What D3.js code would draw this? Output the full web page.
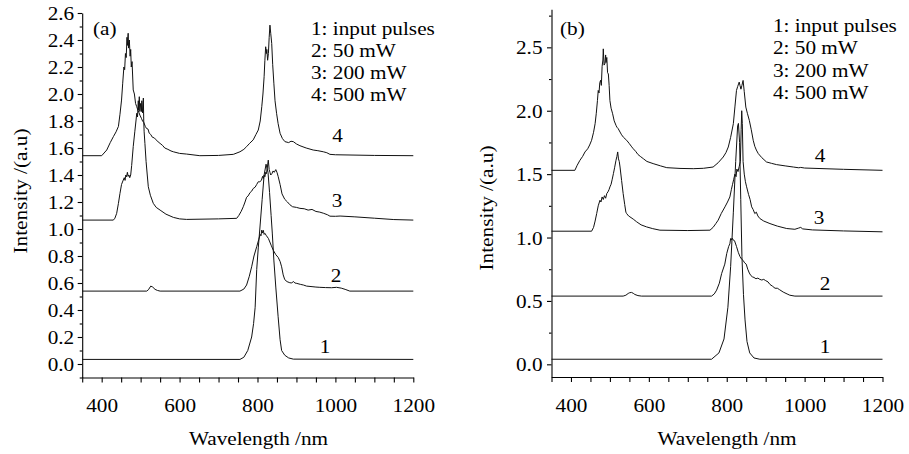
<!DOCTYPE html>
<html><head><meta charset="utf-8">
<script src="https://cdn.jsdelivr.net/npm/d3@7"></script>
<style>body{margin:0;background:#fff}svg{display:block}text{font-family:"Liberation Serif","Times New Roman",serif;fill:#000}</style>
</head><body><div id="chart"></div>
<script>
// ---------- data ----------
const xMajorTicks = [400, 600, 800, 1000, 1200];
const xMinorTicks = [350,400,450,500,550,600,650,700,750,800,850,900,950,1000,1050,1100,1150,1200];
const yTicksA = [0,0.2,0.4,0.6,0.8,1.0,1.2,1.4,1.6,1.8,2.0,2.2,2.4,2.6];
const yMinorA = [-0.1,0.1,0.3,0.5,0.7,0.9,1.1,1.3,1.5,1.7,1.9,2.1,2.3,2.5];
const yTicksB = [0,0.5,1.0,1.5,2.0,2.5];
const yMinorB = [0.25,0.75,1.25,1.75,2.25,2.75];
const legendLabels = ["1: input pulses", "2: 50 mW", "3: 200 mW", "4: 500 mW"];
const curveNames = ["1", "2", "3", "4"];
const panelNames = ["(a)", "(b)"];
const xTitle = "Wavelength /nm";
const yTitle = "Intensity /(a.u)";

// panel (a) spectra: [wavelength nm, intensity]
const specA1 = [[350,0.034],[755,0.034],[765,0.05],[775,0.1],[785,0.2],[790,0.3],[794,0.42],[798,0.7],[802,0.86],[806,1.0],[812,1.22],[817,1.4],[822,1.48],[827,1.42],[831,1.27],[835,1.1],[838,0.97],[842,0.77],[847,0.57],[853,0.35],[858,0.18],[862,0.1],[870,0.065],[880,0.045],[892,0.036],[1200,0.034]];
const specA2 = [[350,0.54],[515.5,0.54],[520,0.55],[526,0.577],[531,0.57],[537,0.553],[543,0.545],[550,0.54],[755,0.54],[765,0.555],[772,0.585],[779,0.65],[785,0.72],[791,0.8],[798,0.869],[803,0.92],[807,0.96],[809,0.95],[811,0.992],[813,0.97],[815,0.99],[817,0.96],[819,0.968],[823,0.95],[828,0.93],[835,0.88],[841,0.84],[847,0.81],[853,0.79],[858,0.76],[862,0.72],[866,0.66],[870,0.625],[876,0.61],[883,0.602],[888,0.6],[892,0.612],[896,0.6],[901,0.597],[910,0.59],[918,0.585],[926,0.577],[940,0.573],[950,0.57],[960,0.568],[975,0.566],[990,0.565],[1003,0.568],[1015,0.562],[1025,0.553],[1037,0.54],[1200,0.54]];
const specA3 = [[350,1.066],[430,1.066],[434,1.08],[438.5,1.116],[443,1.19],[447,1.264],[451,1.33],[455.5,1.363],[458,1.38],[460,1.36],[462,1.4],[464,1.387],[466,1.42],[468,1.39],[470,1.4],[472,1.38],[474.5,1.4],[477,1.47],[481,1.61],[485,1.72],[488,1.8],[490,1.857],[492,1.83],[494,1.95],[495,1.88],[496.6,1.98],[498,1.87],[500,1.93],[502,1.87],[503,1.95],[505,1.86],[507,1.97],[508,1.8],[509,1.72],[511,1.634],[514,1.5],[517,1.4],[519.7,1.313],[525,1.25],[532.5,1.19],[540,1.16],[550,1.14],[565,1.11],[584,1.086],[600,1.075],[618,1.071],[700,1.075],[746.6,1.079],[752,1.1],[758,1.13],[763.5,1.165],[768,1.2],[772,1.235],[776,1.245],[781,1.27],[785,1.28],[789,1.3],[794,1.31],[798,1.33],[802,1.35],[806,1.35],[810,1.36],[813,1.39],[815,1.375],[817,1.4],[819,1.387],[821,1.42],[823,1.41],[825,1.45],[827.7,1.51],[830,1.44],[832,1.42],[834,1.4],[837,1.41],[840,1.43],[843,1.42],[847,1.44],[850,1.42],[853,1.39],[858,1.33],[863,1.26],[870,1.22],[877,1.2],[883,1.18],[890,1.165],[900,1.16],[909,1.153],[920,1.15],[930,1.14],[940,1.145],[950,1.13],[960,1.125],[970,1.116],[980,1.105],[986,1.095],[1000,1.094],[1012,1.096],[1050,1.09],[1100,1.08],[1150,1.07],[1200,1.066]];
const specA4 = [[350,1.543],[400,1.543],[413,1.585],[422,1.64],[430,1.684],[437,1.72],[443,1.76],[447,1.85],[451,1.955],[454,2.08],[457,2.2],[459,2.18],[461,2.3],[463,2.27],[465,2.42],[466,2.36],[468,2.45],[469,2.34],[471,2.4],[473,2.28],[474.5,2.33],[476,2.2],[478,2.24],[481,2.03],[484,2.0],[487,1.93],[490,1.906],[493,1.88],[496,1.86],[498,1.844],[502,1.82],[505,1.8],[508,1.79],[512,1.76],[515,1.745],[519,1.74],[522,1.71],[526,1.7],[530,1.68],[535,1.675],[540,1.66],[545,1.645],[550,1.634],[556,1.62],[562,1.6],[570,1.59],[578,1.578],[584,1.572],[600,1.56],[618,1.555],[652,1.543],[700,1.545],[738,1.553],[755,1.572],[765,1.59],[772,1.61],[780,1.635],[789,1.66],[796,1.7],[802,1.733],[807,1.8],[811,1.906],[814,2.0],[817,2.128],[819,2.25],[821,2.35],[823,2.3],[824,2.33],[826,2.25],[828,2.3],[830,2.42],[832,2.51],[834,2.45],[836.5,2.375],[839,2.22],[842,2.08],[845,1.95],[849,1.857],[853,1.78],[858,1.709],[864,1.67],[870.5,1.647],[880,1.64],[886,1.65],[892,1.647],[900,1.63],[909,1.617],[925,1.6],[943,1.585],[955,1.58],[969,1.572],[978,1.565],[986,1.553],[1000,1.55],[1100,1.545],[1200,1.543]];

// panel (b) spectra
const specB1 = [[350,0.04],[761,0.04],[780,0.09],[793,0.2],[803,0.45],[810,0.77],[817,1.2],[823,1.6],[828,1.88],[830,1.9],[833,1.75],[836,1.3],[839,0.85],[843,0.55],[847,0.35],[852,0.18],[859,0.09],[870,0.05],[885,0.04],[1200,0.04]];
const specB2 = [[350,0.538],[534,0.538],[541,0.545],[547,0.559],[551,0.565],[555.5,0.567],[560,0.56],[564,0.551],[572,0.542],[581,0.538],[761,0.538],[768,0.555],[774,0.585],[781,0.64],[787,0.717],[795,0.79],[800,0.874],[805,0.93],[808,0.95],[810,0.992],[812,0.98],[814,0.995],[817,0.979],[820,0.975],[825,0.93],[830,0.88],[834,0.85],[838,0.83],[842,0.82],[846,0.8],[850,0.79],[854,0.75],[858,0.72],[862,0.7],[866,0.69],[870,0.685],[875,0.675],[880,0.68],[885,0.67],[890,0.665],[895,0.67],[900,0.66],[906,0.65],[911,0.63],[918,0.615],[924,0.6],[930,0.6],[935,0.59],[945,0.57],[955,0.555],[962,0.545],[975,0.538],[1200,0.538]];
const specB3 = [[350,1.05],[453,1.05],[458,1.08],[462,1.13],[466,1.189],[470,1.25],[474.5,1.294],[477,1.28],[480,1.32],[483,1.3],[486,1.33],[489,1.31],[492,1.347],[495,1.36],[498,1.38],[500,1.399],[503,1.42],[506,1.46],[509,1.504],[512,1.55],[515.6,1.609],[518,1.64],[520,1.675],[522,1.62],[524,1.6],[526,1.556],[530,1.45],[534,1.347],[538,1.26],[541,1.2],[543,1.189],[548,1.17],[551.5,1.163],[560,1.145],[568.6,1.124],[580,1.1],[594,1.084],[610,1.07],[628.5,1.058],[700,1.055],[757,1.058],[765,1.08],[772,1.11],[778,1.137],[786,1.19],[795.5,1.242],[802,1.28],[808,1.32],[812,1.38],[815,1.42],[818,1.46],[821,1.5],[824,1.48],[826,1.54],[829,1.52],[832,1.56],[835,1.6],[837,1.85],[838.5,2.0],[840,1.9],[842,1.6],[845,1.5],[848,1.44],[851,1.4],[856,1.34],[860,1.3],[864,1.242],[868,1.22],[872,1.189],[876,1.2],[880,1.17],[885,1.15],[895,1.13],[911,1.11],[930,1.09],[954,1.071],[975,1.065],[985,1.075],[990,1.08],[995,1.068],[1020,1.06],[1100,1.052],[1200,1.045]];
const specB4 = [[350,1.53],[410,1.53],[416,1.57],[423,1.609],[430,1.64],[436,1.675],[443,1.7],[448,1.73],[453,1.767],[458,1.83],[462,1.898],[465,1.98],[468,2.08],[470,2.16],[472,2.14],[474,2.22],[476,2.24],[478,2.2],[480,2.35],[482,2.4],[483,2.488],[485,2.36],[487,2.37],[489,2.44],[490,2.38],[492,2.42],[494,2.3],[496,2.29],[498,2.2],[500,2.08],[503,2.02],[507,1.976],[511,1.92],[515.6,1.885],[518,1.87],[521,1.86],[526,1.832],[530,1.81],[535,1.79],[543,1.767],[550,1.74],[556,1.715],[560,1.7],[566,1.68],[572,1.655],[578,1.64],[585.7,1.622],[595,1.6],[611,1.583],[630,1.565],[646,1.551],[680,1.545],[714,1.543],[740,1.546],[765,1.556],[778,1.59],[791,1.635],[798,1.67],[804,1.714],[810,1.79],[817,1.898],[821,2.03],[825,2.16],[828,2.19],[832,2.226],[834,2.2],[836.5,2.17],[839,2.2],[842,2.239],[845,2.15],[849,2.029],[853,1.98],[858,1.924],[863,1.85],[868,1.767],[872,1.72],[876,1.69],[881,1.662],[890,1.63],[902,1.596],[915,1.585],[928,1.575],[950,1.565],[971,1.556],[985,1.55],[990,1.553],[1000,1.548],[1100,1.538],[1200,1.53]];

// ---------- drawing ----------
const W = 909, H = 454, SX = 1.18;
const svg = d3.select("#chart").append("svg").attr("width", W).attr("height", H);

function addText(g, x, y, str, anchor, size, rot) {
  return g.append("text")
    .attr("transform", `translate(${x},${y})` + (rot ? " rotate(-90)" : "") + ` scale(${SX},1)`)
    .attr("text-anchor", anchor).style("font-size", size + "px").text(str);
}

function panel(p) {
  const g = svg.append("g");
  const x = d3.scaleLinear().domain([350, 1200]).range([p.x0, p.x1]);
  const y = d3.scaleLinear().domain(p.yDomain).range([p.yBottom, p.yTop]);

  // minor y ticks
  g.append("g").attr("transform", `translate(${p.x0},0)`)
    .call(d3.axisLeft(y).tickValues(p.yMinor).tickSize(2.5).tickSizeOuter(0).tickFormat(""))
    .call(s => s.select(".domain").remove());
  // major y ticks
  const ya = g.append("g").attr("transform", `translate(${p.x0},0)`)
    .call(d3.axisLeft(y).tickValues(p.yTicks).tickSize(4.5).tickSizeOuter(0).tickFormat(d3.format(".1f")));
  ya.selectAll("text").attr("x", -p.labGap / SX).attr("dy", "0.36em")
    .attr("transform", `scale(${SX},1)`).style("font-size", "18px")
    .style("font-family", '"Liberation Serif", serif');
  // x axis
  const xa = g.append("g").attr("transform", `translate(0,${p.yBottom})`)
    .call(d3.axisBottom(x).tickValues(xMinorTicks).tickSize(5).tickSizeOuter(0)
      .tickFormat(d => xMajorTicks.includes(d) ? d : ""));
  xa.selectAll("text").attr("y", 35).attr("dy", 0)
    .attr("transform", `scale(${SX},1)`).style("font-size", "18px")
    .style("font-family", '"Liberation Serif", serif');
  g.selectAll(".domain, .tick line").attr("stroke", "#000").attr("stroke-width", 1.1);

  // curves
  const line = d3.line().x(d => x(d[0])).y(d => y(d[1]));
  p.specs.forEach(s => {
    g.append("path").datum(s).attr("d", line)
      .attr("fill", "none").attr("stroke", "#111").attr("stroke-width", 1)
      .attr("stroke-linejoin", "round");
  });

  // curve labels
  p.curveLab.forEach((c, i) => addText(g, c[0], c[1], curveNames[i], "middle", 18));
  // legend
  legendLabels.forEach((t, i) => addText(g, p.legX, p.legY[i], t, "start", 18));
  // panel tag
  addText(g, p.tagX, 35, p.tag, "start", 18);
  // axis titles
  addText(g, p.xTitleX, 445, xTitle, "middle", 18);
  addText(g, p.yTitleX, p.yTitleY, yTitle, "middle", 18, true);
}

panel({
  x0: 82.2, x1: 413.3, yDomain: [-0.1, 2.6], yBottom: 377.5, yTop: 13,
  yTicks: yTicksA, yMinor: yMinorA, labGap: 8,
  specs: [specA1, specA2, specA3, specA4],
  curveLab: [[325, 352.7], [336, 281.7], [337, 206.7], [337.5, 141.7]],
  legX: 311, legY: [34.5, 56.5, 79, 101],
  tag: panelNames[0], tagX: 93,
  xTitleX: 258.5, yTitleX: 27, yTitleY: 191
});
panel({
  x0: 551.5, x1: 882.5, yDomain: [-0.1, 2.8], yBottom: 377, yTop: 9.3,
  yTicks: yTicksB, yMinor: yMinorB, labGap: 9,
  specs: [specB1, specB2, specB3, specB4],
  curveLab: [[825, 353], [825, 290], [819, 224], [820, 161.7]],
  legX: 773, legY: [32, 54.3, 76.6, 99],
  tag: panelNames[1], tagX: 560,
  xTitleX: 727, yTitleX: 493, yTitleY: 208
});
</script></body></html>
